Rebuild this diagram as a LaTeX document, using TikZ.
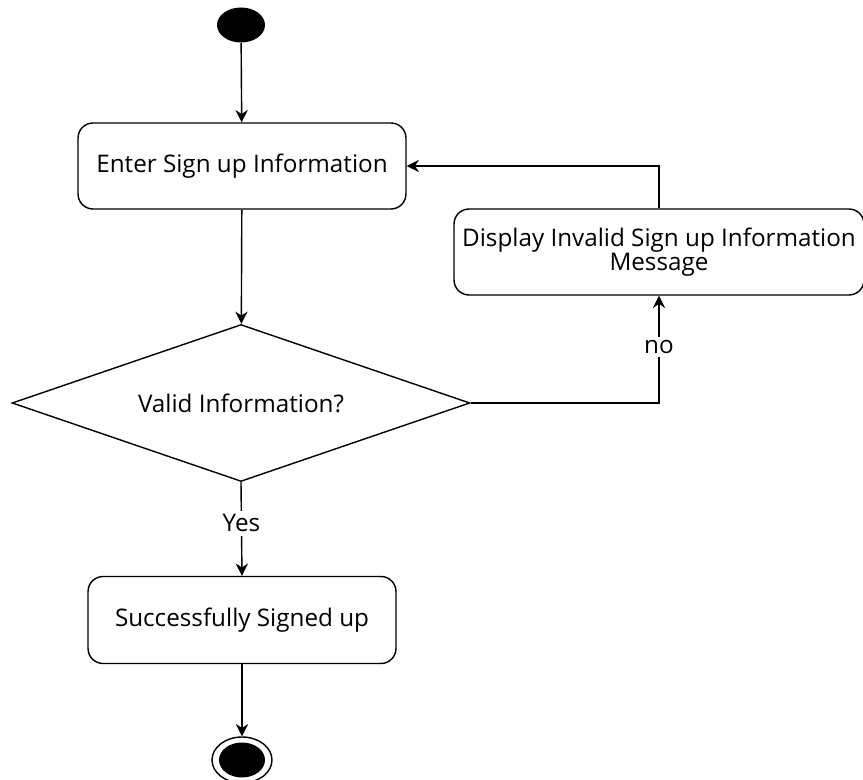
\documentclass[tikz,border=0pt]{standalone}
\usepackage{fontspec}
\setmainfont{Open Sans}
\usetikzlibrary{shapes.geometric,arrows.meta,positioning}

\begin{document}
\begin{tikzpicture}[x=0.02cm,y=-0.02cm,
  every node/.style={font=\fontsize{13.8}{15}\selectfont},
  activity/.style={draw,line width=0.8pt,rounded corners=0.3cm,align=center,minimum height=1.72cm},
  decision/.style={draw,line width=0.8pt,diamond,aspect=2.9,minimum width=9.16cm,minimum height=3.14cm,inner sep=0pt},
  initial/.style={ellipse,fill=black,minimum width=0.96cm,minimum height=0.7cm,inner sep=0pt},
  final/.style={ellipse,draw,line width=0.8pt,minimum width=1.2cm,minimum height=0.92cm,inner sep=0pt,
    path picture={\fill (path picture bounding box.center) ellipse (0.46cm and 0.35cm);}},
  flow/.style={line width=0.8pt,-{Stealth[length=7pt,width=7pt]}},
  guard/.style={fill=white,inner sep=2pt}]
\useasboundingbox (0,0) rectangle (863,780);
\node[initial] (start) at (241,25) {};
\node[activity,minimum width=6.56cm] (enter) at (242,166) {Enter Sign up Information};
\node[decision] (valid) at (241,403) {Valid Information?};
\node[activity,minimum width=8.2cm] (invalid) at (659,252) {Display Invalid Sign up Information\\[-1.5pt]Message};
\node[activity,minimum width=6.16cm,minimum height=1.74cm] (success) at (242,620) {Successfully Signed up};
\node[final] (stop) at (242,760) {};
% transitions
\draw[flow] (start) -- (enter);
\draw[flow] (enter) -- (valid);
\draw[flow] (valid.east) -| node[guard,pos=0.76] {no} (invalid.south);
\draw[flow] (invalid.north) |- (enter.east);
\draw[flow] (valid.south) -- node[guard,pos=0.44] {Yes} (success.north);
\draw[flow] (success) -- (stop);
\end{tikzpicture}
\end{document}
